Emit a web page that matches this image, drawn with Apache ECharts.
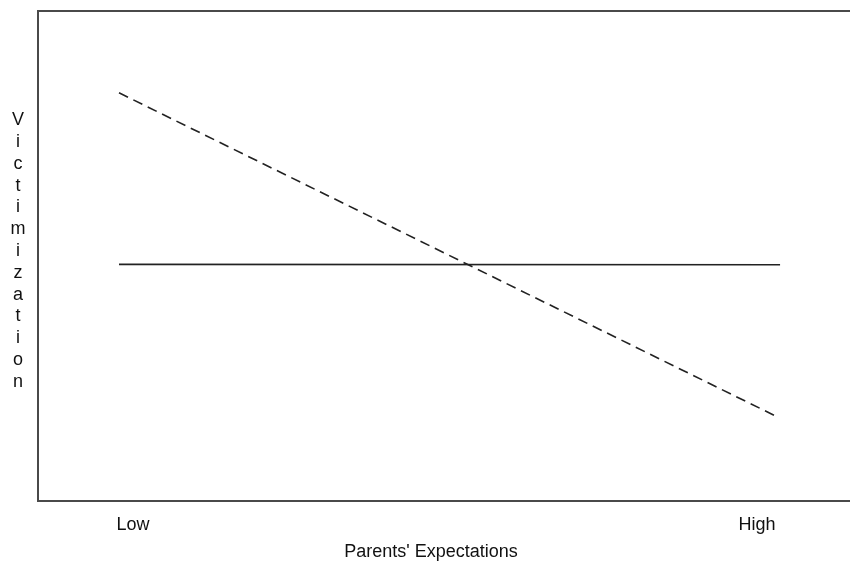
<!DOCTYPE html>
<html>
<head>
<meta charset="utf-8">
<script src="https://cdn.jsdelivr.net/npm/echarts@6/dist/echarts.min.js"></script>
<style>
html,body{margin:0;padding:0;background:#fff;}
#chart{width:850px;height:561px;}
</style>
</head>
<body>
<div id="chart"></div>
<script>
// Data
var xTickValues = [0, 1];
var xTickLabels = ['Low', 'High'];
var xAxisTitle = "Parents' Expectations";
var yAxisTitle = 'Victimization';
// dashed series: [x, y]
var dashedX = [-0.0224, 1.0304];
var dashedY = [83.3, 17.3];
// solid series
var solidX = [-0.0224, 1.0369];
var solidY = [48.3, 48.2];

function pairs(xs, ys){ return xs.map(function(x,i){ return [x, ys[i]]; }); }

var chart = echarts.init(document.getElementById('chart'), null, {renderer:'canvas'});
chart.setOption({
  animation: false,
  backgroundColor: '#ffffff',
  grid: {
    left: 38, top: 11, width: 822, height: 490,
    outerBoundsMode: 'none', containLabel: false,
    show: true, borderColor: '#4a4a4a', borderWidth: 2, backgroundColor: 'transparent'
  },
  xAxis: {
    type: 'value', min: -0.1522, max: 1.165,
    axisLine: {show: false}, axisTick: {show: false}, splitLine: {show: false},
    axisLabel: {
      customValues: xTickValues,
      formatter: function(v){ var i = xTickValues.indexOf(v); return i >= 0 ? xTickLabels[i] : ''; },
      fontFamily: 'Liberation Sans, Arial, sans-serif', fontSize: 18, color: '#111', margin: 15
    },
    name: xAxisTitle, nameLocation: 'middle', nameGap: 42,
    nameTextStyle: {fontFamily: 'Liberation Sans, Arial, sans-serif', fontSize: 18, color: '#111', padding: [0, 36, 0, 0]}
  },
  yAxis: {
    type: 'value', min: 0, max: 100,
    axisLine: {show: false}, axisTick: {show: false}, splitLine: {show: false}, axisLabel: {show: false},
    name: yAxisTitle.split('').join('\n') + '\n{s| }', nameLocation: 'middle', nameRotate: 0, nameGap: 20,
    nameTextStyle: {
      fontFamily: 'Liberation Sans, Arial, sans-serif', fontSize: 18, color: '#111', lineHeight: 21.8, align: 'center',
      rich: {s: {fontSize: 8, lineHeight: 10}}
    }
  },
  series: [
    {
      type: 'line', data: pairs(dashedX, dashedY), symbol: 'none',
      lineStyle: {color: '#222', width: 1.6, type: [10, 6]}
    },
    {
      type: 'line', data: pairs(solidX, solidY), symbol: 'none',
      lineStyle: {color: '#222', width: 1.6, type: 'solid'}
    }
  ]
});
</script>
</body>
</html>
